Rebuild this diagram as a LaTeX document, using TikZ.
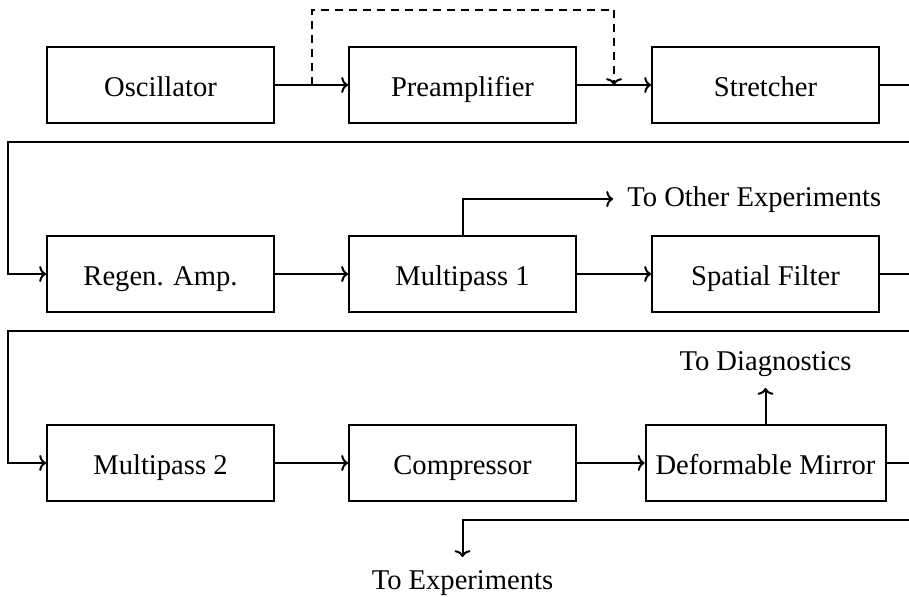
\documentclass[tikz,border=0pt]{standalone}
\usepackage{fontspec}
\setmainfont{Liberation Serif}
\usetikzlibrary{calc,arrows.meta}
\begin{document}
\begin{tikzpicture}[x=0.5pt,y=-0.5pt,
  txt/.style={font=\fontsize{14.3}{17}\selectfont},
  box/.style={txt, draw, line width=1pt, minimum width=113.5pt, minimum height=38pt, inner xsep=5pt, text height=12.5pt, text depth=1pt},
  conn/.style={line width=1pt, -{To[length=3.4pt,width=8pt]}},
  plain/.style={line width=1pt}]
\useasboundingbox (0,0) rectangle (909,597);
\clip (0,0) rectangle (909,597);

\node[box] (osc)   at (160.5,85)  {Oscillator};
\node[box] (pre)   at (462.5,85)  {Preamplifier};
\node[box] (str)   at (765.5,85)  {Stretcher};
\node[box] (regen) at (160.5,274) {Regen. Amp.};
\node[box] (mp1)   at (462.5,274) {Multipass 1};
\node[box] (sf)    at (765.5,274) {Spatial Filter};
\node[box] (mp2)   at (160.5,463) {Multipass 2};
\node[box] (comp)  at (462.5,463) {Compressor};
\node[box] (dm)    at (765.5,463) {Deformable Mirror};

\node[txt, anchor=west, inner xsep=7pt, text height=10pt, text depth=2pt] (toother) at (613,199) {To Other Experiments};
\node[txt, anchor=south, inner sep=5.5pt] (todiag) at (765.5,388) {To Diagnostics};
\node[txt, anchor=north, inner sep=6.5pt] (toexp) at (462.5,557) {To Experiments};

\coordinate (w1) at (940,142);
\coordinate (w2) at (8,142);
\coordinate (w3) at (940,331);
\coordinate (w4) at (8,331);
\coordinate (w5) at (940,520);
\coordinate (w6) at (462.5,520);
\coordinate (dA) at ($(osc.east)!0.5!(pre.west)$);
\coordinate (dB) at ($(pre.east)!0.5!(str.west)$);

\draw[conn] (osc) -- (pre);
\draw[conn] (pre) -- (str);
\draw[conn] (regen) -- (mp1);
\draw[conn] (mp1) -- (sf);
\draw[conn] (mp2) -- (comp);
\draw[conn] (comp) -- (dm);

\draw[conn] (str.east) -| (w1) -- (w2) |- (regen.west);
\draw[conn] (sf.east) -| (w3) -- (w4) |- (mp2.west);
\draw[conn] (dm.east) -| (w5) -- (w6) -- (toexp.north);

\draw[conn] (mp1.north) |- (toother.west);
\draw[conn] (dm.north) -- (todiag.south);

\draw[conn, dashed, dash pattern=on 4pt off 3pt] (dA) -- ++(0,-75) -| (dB);
\end{tikzpicture}
\end{document}
